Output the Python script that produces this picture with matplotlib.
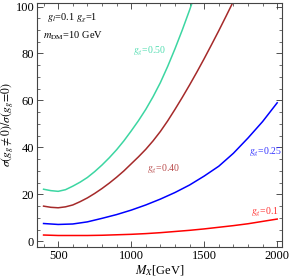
import matplotlib
matplotlib.use("Agg")
import matplotlib.pyplot as plt
from matplotlib.ticker import MultipleLocator

plt.rcParams['font.family'] = ['Liberation Serif', 'DejaVu Serif']
plt.rcParams['mathtext.fontset'] = 'stix'

# mass grids (GeV) and ratio curves
m_coarse = [400, 500, 600, 700, 800, 900, 1000, 1100, 1200, 1300, 1400, 1500, 1600, 1700, 1800, 1900, 2000]
r_010 = [2.7, 2.5, 2.5, 2.5, 2.6, 2.8, 3.0, 3.3, 3.7, 4.2, 4.7, 5.3, 6.0, 6.7, 7.5, 8.5, 9.5]
r_025 = [7.6, 7.2, 7.4, 8.3, 9.8, 11.4, 13.3, 15.5, 18.0, 20.8, 24.0, 27.8, 32.0, 37.5, 44.0, 51.0, 59.0]

m_fine = [400, 450, 500, 550, 600, 650, 700, 750, 800, 850, 900, 950, 1000, 1050, 1100, 1150,
          1200, 1250, 1300, 1350, 1400, 1450, 1500, 1550, 1600, 1650, 1700, 1750]
r_040 = [15.0, 14.5, 14.3, 14.7, 15.5, 16.9, 18.5, 20.4, 22.5, 24.8, 27.3, 30.0, 33.0, 36.0,
         39.2, 42.8, 46.8, 51.3, 56.2, 61.3, 66.6, 72.1, 77.8, 83.7, 89.7, 95.9, 102.2, 108.6]
r_050 = [22.2, 21.6, 21.3, 22.0, 23.5, 25.2, 27.2, 29.7, 32.5, 35.6, 39.0, 42.8, 47.0, 51.4,
         56.2, 61.6, 67.6, 74.5, 82.0, 90.0, 98.5, 107.5]

labels = ['$g_g$=0.1', '$g_g$=0.25', '$g_g$=0.40', '$g_g$=0.50']
colors = ['#ff0000', '#0000ff', '#a52a2a', '#3cd6a2']
label_colors = ['#ff3030', '#3030ff', '#b84a4a', '#50ddb0']
label_pos = [(1822, 12.3), (1808, 38), (1110, 30.5), (1014, 81)]

fig = plt.figure(figsize=(2.91, 2.77), dpi=100)
ax = fig.add_axes([37 / 291, 1 - 247 / 277, 245 / 291, 244 / 277])

ax.plot(m_coarse, r_010, color=colors[0], lw=1.1)
ax.plot(m_coarse, r_025, color=colors[1], lw=1.1)
ax.plot(m_fine[:len(r_040)], r_040, color=colors[2], lw=1.1)
ax.plot(m_fine[:len(r_050)], r_050, color=colors[3], lw=1.1)

for lab, c, (lx, ly) in zip(labels, label_colors, label_pos):
    ax.text(lx, ly, lab, color=c, fontsize=7, va='center', ha='left')

ax.text(0.04, 0.935, r'$g_l$=0.1 $g_\chi$=1', transform=ax.transAxes, fontsize=7.5, va='center')
ax.text(0.025, 0.865, r'$m_{\rm DM}$=10 GeV', transform=ax.transAxes, fontsize=7.5, va='center')

ax.set_xlim(355, 2033)
ax.set_ylim(-2.4, 101.5)
ax.xaxis.set_major_locator(MultipleLocator(500))
ax.xaxis.set_minor_locator(MultipleLocator(100))
ax.yaxis.set_major_locator(MultipleLocator(20))
ax.yaxis.set_minor_locator(MultipleLocator(5))
ax.tick_params(which='both', direction='in', top=True, right=True, labelsize=9, colors='#333333', labelcolor='black', pad=2)
ax.tick_params(which='major', length=4, width=0.6)
ax.tick_params(which='minor', length=2, width=0.5)
for s in ax.spines.values():
    s.set_color('#444444')
    s.set_linewidth(0.8)

ax.set_xlabel(r'$M_X$[GeV]', fontsize=9, labelpad=1)
ax.set_ylabel(r'$\sigma(g_g \neq 0)/\sigma(g_g\!=\!0)$', fontsize=8.5)
ax.yaxis.set_label_coords(-0.085, 0.5)

fig.savefig('out.png', dpi=100)
